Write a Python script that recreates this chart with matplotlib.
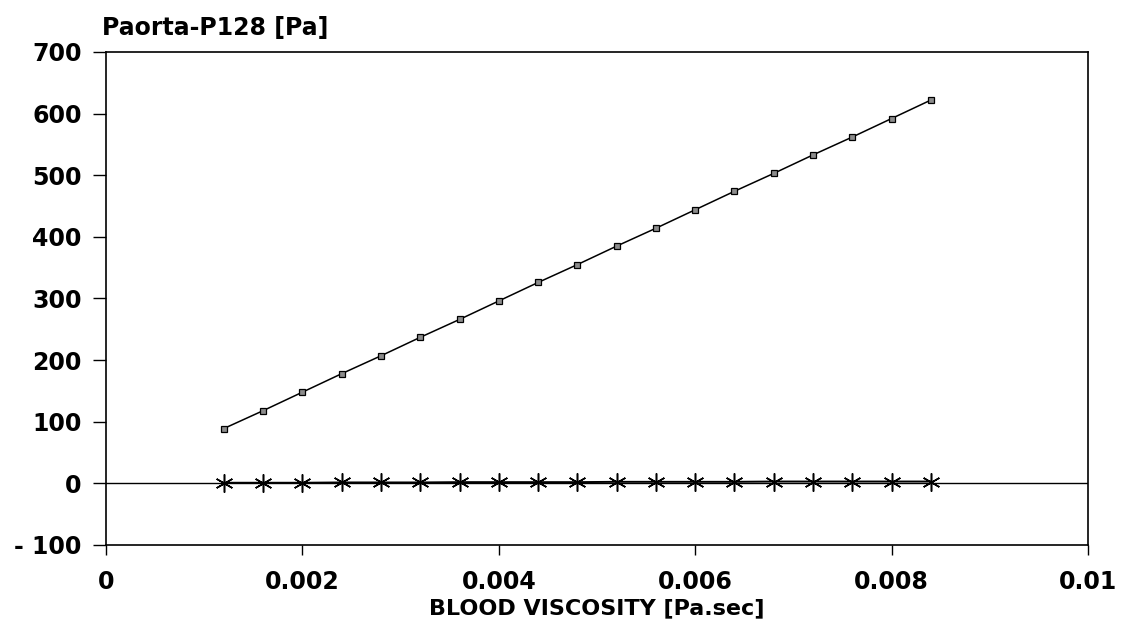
#!/usr/bin/env python3
# -*- coding: utf-8 -*-
"""
Pressure drop aorta -> P128 against blood viscosity
"""
import numpy as np
import matplotlib
matplotlib.use("Agg")
import matplotlib.pyplot as plt

# viscosity values used in the runs [Pa.sec]
visc = [0.0012, 0.0016, 0.0020, 0.0024, 0.0028, 0.0032, 0.0036, 0.0040,
        0.0044, 0.0048, 0.0052, 0.0056, 0.0060, 0.0064, 0.0068, 0.0072,
        0.0076, 0.0080, 0.0084]
# Paorta-P128, first case [Pa]
dp_steady = [89, 118, 148, 178, 207, 237, 266, 296, 326, 355, 385, 414,
             444, 474, 503, 533, 562, 592, 622]
# second case, almost flat
dp_second = [1, 1, 1, 1.5, 1.5, 1.5, 2, 2, 2, 2, 2.5, 2.5, 2.5, 2.5, 3, 3,
             3, 3, 3]

yticks = [-100, 0, 100, 200, 300, 400, 500, 600, 700]
ylabels = ['- 100', '0', '100', '200', '300', '400', '500', '600', '700']
xticks = [0, 0.002, 0.004, 0.006, 0.008, 0.01]
xlabels = ['0', '0.002', '0.004', '0.006', '0.008', '0.01']

plt.rcParams['font.family'] = ['DejaVu Sans']
plt.rcParams['font.weight'] = 'bold'

fig = plt.figure(figsize=(11.28, 6.31), dpi=100)
ax = fig.add_axes([0.094, 0.1363, 0.8705, 0.7813])

ax.axhline(0, color='k', lw=1.0)
ax.plot(visc, dp_steady, color='k', lw=1.1, marker='s', ms=4.5,
        mfc='0.55', mec='k', mew=0.9)
ax.plot(visc, dp_second, color='k', lw=1.4, marker=(6, 2, 0), ms=13,
        mew=1.1)

ax.set_xlim(0, 0.01)
ax.set_ylim(-100, 700)
ax.set_yticks(yticks)
ax.set_yticklabels(ylabels)
ax.set_xticks(xticks)
ax.set_xticklabels(xlabels)
ax.tick_params(axis='y', direction='out', length=9.5, width=1, labelsize=17, pad=8)
ax.tick_params(axis='x', direction='out', length=7, width=1, labelsize=17, pad=11)
for s in ax.spines.values():
    s.set_linewidth(1.2)

ax.set_xlabel('BLOOD VISCOSITY [Pa.sec]', fontsize=16, fontweight='bold', labelpad=3)
fig.text(0.09, 0.9445, 'Paorta-P128 [Pa]', fontsize=17, fontweight='bold',
         ha='left', va='baseline')

fig.savefig('out.png', dpi=100)
